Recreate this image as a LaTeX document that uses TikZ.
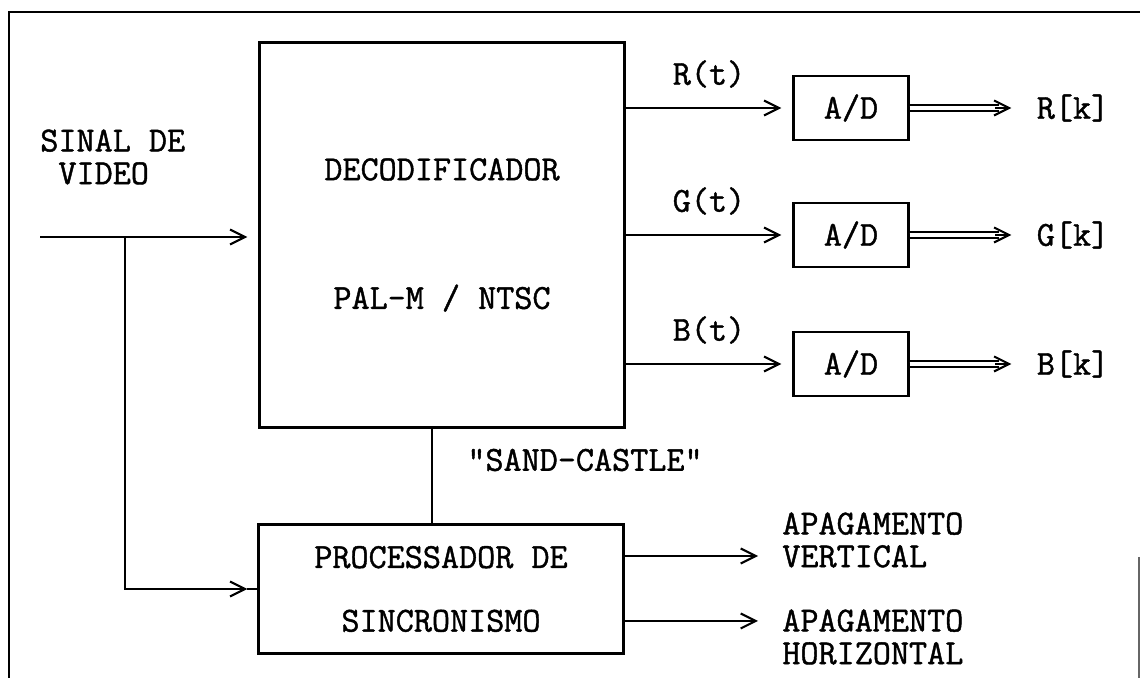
\documentclass[tikz,border=0pt]{standalone}
\usepackage{fontspec}
\newfontfamily\typew[FakeBold=1.2]{Latin Modern Mono}
\usetikzlibrary{arrows.meta,positioning}

\tikzset{
  blk/.style={draw, line width=1.3pt, inner sep=0pt},
  lbl/.style={font=\typew\fontsize{20}{18.6}\selectfont, inner sep=0pt},
  sig/.style={line width=1.2pt, -{Straight Barb[length=0.3cm, width=0.3cm, line width=1.2pt]}},
  wire/.style={line width=1.2pt},
  dbl/.style={line width=1.1pt, double, double distance=1.8pt},
  frame/.style={line width=1.1pt},
}

\begin{document}
\begin{tikzpicture}[x=0.02cm, y=-0.02cm]
  \useasboundingbox (0,0) rectangle (1140,678);

  % ---- page frame (cut off at the bottom)
  \draw[frame] (9,678) -- (9,12) -- (1140,12);
  \draw[line width=0.6pt, black!60] (1139,557) -- (1139,678);

  % ---- main blocks
  \node[blk, lbl, minimum width=7.3cm, minimum height=7.7cm, align=center] (dec) at (442,235)
    {DECODIFICADOR\\[1.92cm]PAL-M / NTSC};
  \node[blk, lbl, minimum width=7.3cm, minimum height=2.58cm, align=center] (sync) at (441,589)
    {PROCESSADOR DE\\[0.62cm]SINCRONISMO};

  % ---- video input
  \node[lbl, align=left, anchor=west] (sinal) at (40,157) {SINAL DE\\\hphantom{S}VIDEO};
  \coordinate (vin) at (40,237);
  \coordinate (j) at (125,237);
  \draw[sig, shorten >=0.22cm] (vin) -- (vin -| dec.west);
  \draw[sig, shorten >=0.2cm] (j) |- (sync.west);
  \draw[wire] ([xshift=-0.2cm]sync.west) -- (sync.west);

  % ---- sand-castle pulse
  \draw[wire] ([xshift=-0.2cm]dec.south) -- ([xshift=-0.2cm]dec.south |- sync.north);
  \node[lbl] (sc) at (585,460) {"SAND-CASTLE"};

  % ---- colour channels through the converters
  \foreach \c/\y in {R/108, G/235, B/364} {
    \node[blk, lbl, minimum width=2.3cm, minimum height=1.28cm] (ad\c) at (851,\y) {A/D};
    \node[lbl] (out\c) at (1073,\y) {\c[k]};
    \draw[sig, shorten >=0.22cm] (dec.east |- ad\c) -- (ad\c)
      node[lbl, midway, yshift=0.68cm] {\c(t)};
    \draw[dbl, shorten >=0.75cm] (ad\c) -- (out\c.west);
    \draw[sig, shorten >=0.5cm] ([xshift=-0.82cm]out\c.west) -- (out\c.west);
  }

  % ---- blanking outputs
  \node[lbl, align=left, anchor=west] (apV) at (782,540) {APAGAMENTO\\VERTICAL};
  \node[lbl, align=left, anchor=west] (apH) at (782,637) {APAGAMENTO\\HORIZONTAL};
  \draw[sig, shorten >=0.48cm] ([yshift=0.66cm]sync.east) -- ([yshift=0.66cm]sync.east -| apV.west);
  \draw[sig, shorten >=0.48cm] ([yshift=-0.64cm]sync.east) -- ([yshift=-0.64cm]sync.east -| apH.west);

\end{tikzpicture}
\end{document}
